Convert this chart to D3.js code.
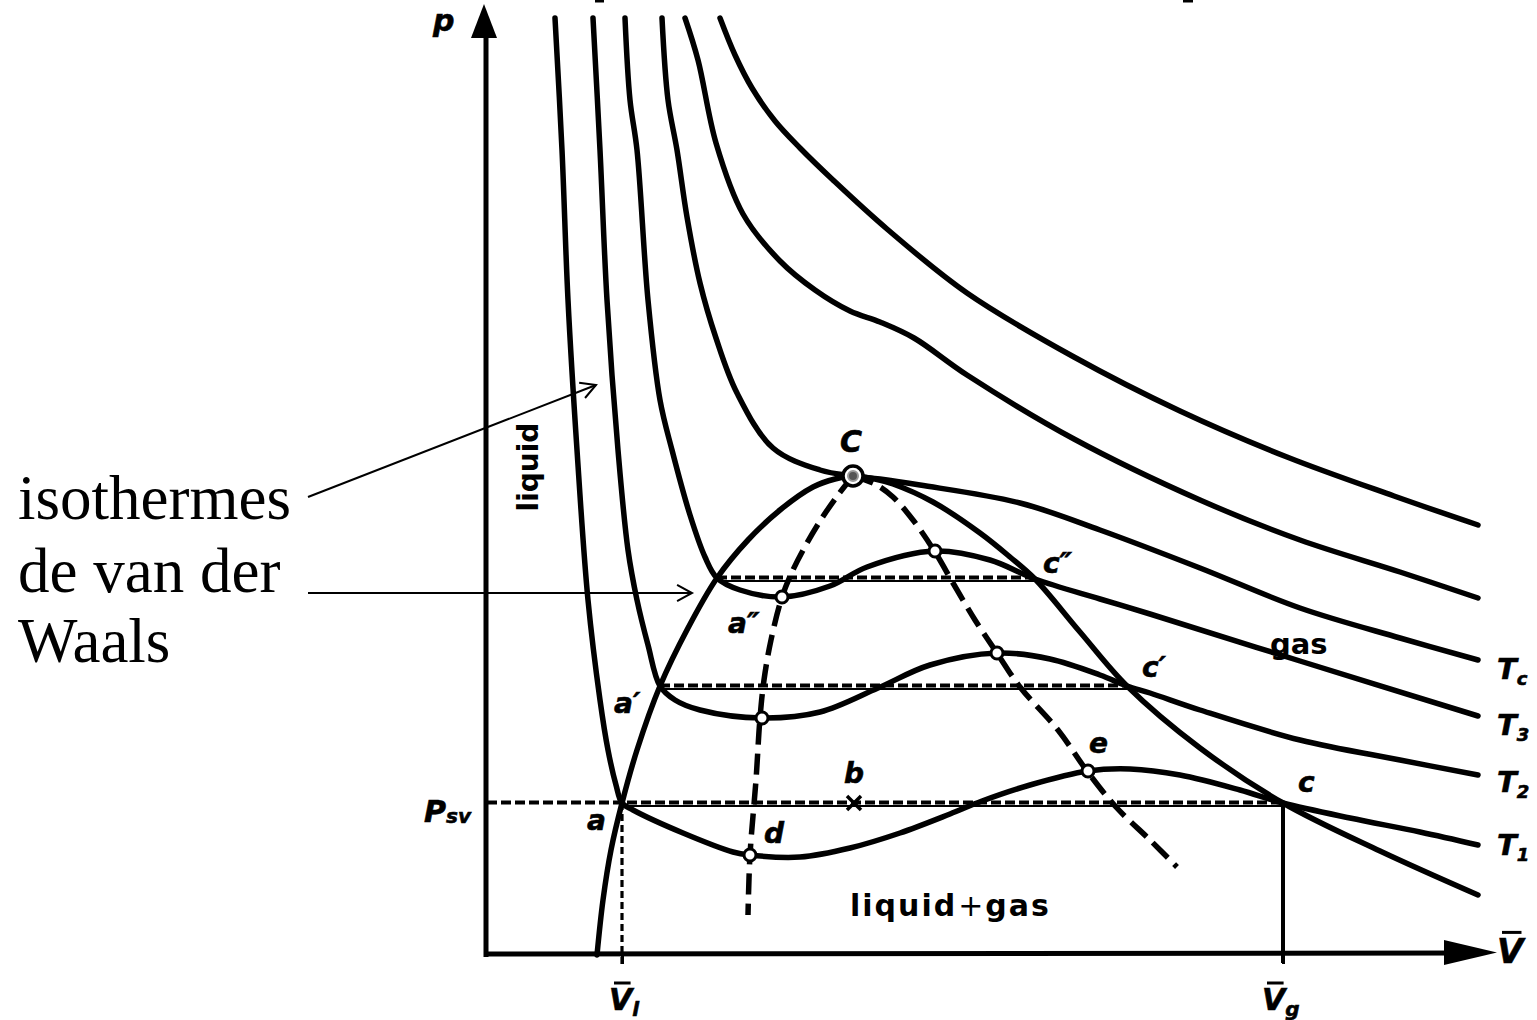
<!DOCTYPE html>
<html><head><meta charset="utf-8">
<script src="https://cdn.jsdelivr.net/npm/d3@7"></script>
<style>html,body{margin:0;padding:0;background:#fff;} svg{display:block}</style>
</head><body>
<svg id="chart" width="1537" height="1020"></svg>
<script>
// ---- data (V, p) in arbitrary diagram units ----
const T1 = [[6.8,93.7],[7.5,80.5],[8.1,65.5],[9.0,50.5],[10.1,35.5],[11.3,25.5],[12.1,20.5],[12.9,17.0],[13.5,15.2],[14.6,14.5],[19.6,12.2],[24.6,10.3],[26.3,10.0],[31.3,9.8],[36.3,10.7],[41.3,12.2],[46.3,14.1],[49.5,15.4],[54.3,17.0],[60.1,18.4],[64.3,18.6],[69.3,18.0],[75.3,16.5],[79.6,15.2],[86.3,13.7],[93.3,12.3],[99.1,11.0]];
const T2 = [[10.6,93.7],[11.3,80.5],[12.0,65.5],[13.1,50.5],[14.1,40.5],[15.0,35.5],[16.1,31.0],[17.3,26.9],[18.8,25.5],[21.3,24.5],[27.5,23.7],[33.3,24.3],[39.1,26.7],[44.3,29.0],[51.0,30.2],[56.3,29.6],[61.3,28.0],[64.0,26.9],[66.3,26.2],[71.3,24.5],[81.3,21.5],[91.3,19.5],[99.1,18.0]];
const T3 = [[13.8,93.7],[14.3,85.5],[15.0,80.5],[16.1,65.5],[17.3,55.5],[18.5,50.5],[20.3,44.0],[21.8,39.8],[23.0,37.7],[25.3,36.5],[29.5,35.8],[34.3,36.9],[38.0,38.8],[44.8,40.4],[50.3,39.5],[54.8,37.6],[61.3,35.6],[66.3,34.1],[81.3,29.4],[99.1,23.9]];
const Tc = [[17.5,93.7],[18.1,85.5],[19.0,80.5],[20.0,73.8],[21.3,67.2],[22.9,61.7],[25.0,56.2],[28.6,50.7],[33.3,48.5],[36.6,47.9],[39.3,47.6],[43.3,47.0],[53.3,45.2],[61.3,42.5],[71.3,38.7],[81.3,34.7],[91.3,31.7],[99.1,29.5]];
const T4 = [[19.8,93.7],[21.1,89.5],[22.9,81.2],[25.6,74.1],[29.3,69.4],[32.8,66.5],[36.3,64.4],[39.3,63.3],[42.7,61.7],[48.0,58.0],[58.7,51.6],[71.3,45.5],[81.3,41.5],[91.3,38.3],[99.1,35.7]];
const T5 = [[23.3,93.7],[24.8,90.0],[26.5,86.7],[28.8,83.4],[31.3,80.7],[34.6,77.5],[40.0,72.6],[48.0,66.2],[58.7,59.8],[69.3,54.4],[80.0,49.8],[90.7,45.9],[99.1,43.0]];
const binodal = [[11.0,0],[11.6,5.5],[12.4,10.5],[13.5,15.2],[15.0,20.5],[17.3,26.9],[20.1,32.7],[23.0,37.7],[26.1,41.5],[29.3,44.5],[32.6,46.8],[34.8,47.6],[36.6,47.9],[38.8,47.6],[40.6,47.1],[44.6,45.3],[49.3,42.2],[52.3,39.8],[54.8,37.6],[59.3,32.3],[64.0,26.9],[71.3,20.7],[79.6,15.2],[89.3,10.4],[99.1,6.0]];
const spinodalLeft = [[36.6,47.9],[35.1,46.0],[33.5,43.7],[32.0,41.2],[30.5,38.3],[29.5,35.8],[28.4,31.5],[27.7,27.5],[27.3,23.7],[26.9,17.5],[26.3,10.0],[26.1,4.0]];
const spinodalRight = [[36.6,47.9],[38.8,47.1],[40.6,45.8],[42.6,43.5],[44.8,40.3],[46.6,37.2],[48.8,33.5],[51.0,30.2],[53.3,26.8],[57.1,22.5],[60.0,18.4],[62.9,14.8],[66.3,11.5],[69.0,8.8]];
const openPoints = [[29.5,35.8],[44.8,40.4],[27.5,23.7],[51.0,30.2],[26.3,10.0],[60.1,18.4]];
const criticalPoint = [36.6,47.9];
const tieLines = [{p:15.2, v0:13.5, v1:79.6}, {p:26.9, v0:17.3, v1:64.0}, {p:37.7, v0:23.0, v1:54.8}];
const psv = 15.2, Vl = 13.5, Vg = 79.6, bPoint = [36.7,15.2];
const pointLabels = [
  {t:"a", at:[13.5,15.2], dx:-35, dy:27},
  {t:"a\u2032", at:[17.3,26.9], dx:-46, dy:27},
  {t:"a\u2033", at:[29.5,35.8], dx:-54, dy:36},
  {t:"b", at:[36.7,15.2], dx:-10, dy:-20},
  {t:"d", at:[26.3,10.0], dx:14, dy:-12},
  {t:"e", at:[60.1,18.4], dx:1, dy:-18},
  {t:"c", at:[79.6,15.2], dx:15, dy:-11},
  {t:"c\u2032", at:[64.0,26.9], dx:15, dy:-9},
  {t:"c\u2033", at:[54.8,37.6], dx:8, dy:-6},
  {t:"C", at:[36.6,47.9], dx:-13, dy:-24, big:true}
];
const curveLabels = [{t:"T", s:"c", curve:"Tc", dy:19},{t:"T", s:"3", curve:"T3", dy:19},{t:"T", s:"2", curve:"T2", dy:17},{t:"T", s:"1", curve:"T1", dy:10}];

// ---- drawing ----
const svg = d3.select('#chart');
const x = d3.scaleLinear().domain([0,100]).range([487,1487]);
const y = d3.scaleLinear().domain([0,94]).range([955,15]);
const line = d3.line().x(d=>x(d[0])).y(d=>y(d[1])).curve(d3.curveCatmullRom.alpha(0.5));
const FONT = "'DejaVu Sans', sans-serif";
const SW = 5.5;

// top artifacts
svg.append('rect').attr('x',595).attr('y',0).attr('width',9).attr('height',2.5).attr('fill','#000');
svg.append('rect').attr('x',1183).attr('y',0).attr('width',10).attr('height',2.5).attr('fill','#000');

// tie lines
tieLines.forEach((t,i)=>{
  svg.append('line').attr('x1',x(t.v0)).attr('x2',x(t.v1)).attr('y1',y(t.p)+3).attr('y2',y(t.p)+3)
    .attr('stroke','#000').attr('stroke-width',2);
  svg.append('line').attr('x1', i===0 ? x(0) : x(t.v0)).attr('x2',x(t.v1)).attr('y1',y(t.p)-0.5).attr('y2',y(t.p)-0.5)
    .attr('stroke','#000').attr('stroke-width',4).attr('stroke-dasharray','10,4');
});
// verticals
svg.append('line').attr('x1',x(Vl)).attr('x2',x(Vl)).attr('y1',y(psv)).attr('y2',y(0)+13)
  .attr('stroke','#000').attr('stroke-width',3.2).attr('stroke-dasharray','7,4');
svg.append('line').attr('x1',x(Vg)).attr('x2',x(Vg)).attr('y1',y(psv)).attr('y2',y(0)+8)
  .attr('stroke','#000').attr('stroke-width',4);

// axes
const axisG = svg.append('g');
axisG.append('line').attr('x1',x(0)-1).attr('x2',x(0)-1).attr('y1',y(0)+2).attr('y2',30).attr('stroke','#000').attr('stroke-width',5);
axisG.append('path').attr('d',`M${x(0)-3},4 L${x(0)-16},38 L${x(0)+10},38 Z`).attr('fill','#000');
axisG.append('line').attr('x1',x(0)-3).attr('x2',1470).attr('y1',y(0)-1).attr('y2',y(0)-2).attr('stroke','#000').attr('stroke-width',5);
axisG.append('path').attr('d',`M1497,${y(0)-2.5} L1444,${y(0)-15} L1444,${y(0)+10} Z`).attr('fill','#000');
const xAxis = d3.axisBottom(x).tickValues([Vl, Vg]).tickSize(9).tickFormat('').tickSizeOuter(0);
const xa = svg.append('g').attr('transform',`translate(0,${y(0)})`).call(xAxis);
xa.select('.domain').remove();
xa.selectAll('.tick line').attr('stroke','#000').attr('stroke-width',3);

// curves
const isotherms = {T1, T2, T3, Tc, T4, T5};
Object.values(isotherms).forEach(c=>{
  svg.append('path').attr('d',line(c)).attr('fill','none').attr('stroke','#000').attr('stroke-width',SW).attr('stroke-linecap','round');
});
svg.append('path').attr('d',line(binodal)).attr('fill','none').attr('stroke','#000').attr('stroke-width',SW).attr('stroke-linecap','round');
[spinodalLeft, spinodalRight].forEach(c=>{
  svg.append('path').attr('d',line(c)).attr('fill','none').attr('stroke','#000').attr('stroke-width',SW)
    .attr('stroke-dasharray','21,9');
});

// open circles
svg.selectAll('circle.open').data(openPoints).join('circle').attr('class','open')
  .attr('cx',d=>x(d[0])).attr('cy',d=>y(d[1])).attr('r',6)
  .attr('fill','#fff').attr('stroke','#000').attr('stroke-width',3);
// critical point
svg.append('circle').attr('cx',x(criticalPoint[0])).attr('cy',y(criticalPoint[1])).attr('r',10)
  .attr('fill','#fff').attr('stroke','#000').attr('stroke-width',3.5);
svg.append('circle').attr('cx',x(criticalPoint[0])).attr('cy',y(criticalPoint[1])).attr('r',5)
  .attr('fill','#555').attr('stroke','#999').attr('stroke-width',2);
// b cross
const bx = x(bPoint[0]), by = y(bPoint[1]);
svg.append('path').attr('d',`M${bx-7},${by-7}L${bx+7},${by+7}M${bx-7},${by+7}L${bx+7},${by-7}`)
  .attr('stroke','#000').attr('stroke-width',3.5);

// point labels
pointLabels.forEach(l=>{
  svg.append('text').attr('x',x(l.at[0])+l.dx).attr('y',y(l.at[1])+l.dy)
    .attr('font-family',FONT).attr('font-weight','bold').attr('font-style','italic')
    .attr('font-size', l.big?30:28).attr('stroke','#000').attr('stroke-width',0.6).text(l.t);
});
// curve labels
curveLabels.forEach(l=>{
  const c = isotherms[l.curve]; const e = c[c.length-1];
  const t = svg.append('text').attr('x',x(e[0])+19).attr('y',y(e[1])+l.dy)
    .attr('font-family',FONT).attr('font-weight','bold').attr('font-style','italic').attr('font-size',29)
    .attr('stroke','#000').attr('stroke-width',0.6);
  t.append('tspan').text(l.t);
  t.append('tspan').attr('font-size',18).attr('dy',6).text(l.s);
});

// axis labels
svg.append('text').attr('x',433).attr('y',31).attr('font-family',FONT).attr('font-weight','bold').attr('font-style','italic').attr('font-size',30).attr('stroke','#000').attr('stroke-width',0.6).text('p');
function vbar(xp, yp, size, sub){
  const t = svg.append('text').attr('x',xp).attr('y',yp).attr('font-family',FONT).attr('font-weight','bold').attr('font-style','italic').attr('font-size',size).attr('stroke','#000').attr('stroke-width',0.6);
  t.append('tspan').text('V');
  if(sub) t.append('tspan').attr('font-size',20).attr('dy',6).text(sub);
  svg.append('line').attr('x1',xp+5).attr('x2',xp+size*0.72).attr('y1',yp-size*0.9).attr('y2',yp-size*0.9).attr('stroke','#000').attr('stroke-width',3);
}
vbar(1497, 963, 34, null);
vbar(609, 1010, 30, 'l');
vbar(1262, 1010, 30, 'g');
const ps = svg.append('text').attr('x',424).attr('y',822).attr('font-family',FONT).attr('font-weight','bold').attr('font-style','italic').attr('font-size',30).attr('stroke','#000').attr('stroke-width',0.6);
ps.append('tspan').text('P');
ps.append('tspan').attr('font-size',20).attr('dy',1).text('sv');

// region labels
svg.append('text').attr('x',1270).attr('y',654).attr('font-family',FONT).attr('font-weight','bold').attr('font-size',29).text('gas');
svg.append('text').attr('transform','translate(538,467) rotate(-90)').attr('text-anchor','middle')
  .attr('font-family',FONT).attr('font-weight','bold').attr('font-size',28).text('liquid');
const lg = svg.append('text').attr('x',850).attr('y',916).attr('font-family',FONT).attr('font-weight','bold').attr('font-size',30).attr('letter-spacing',2);
lg.append('tspan').text('liquid');
lg.append('tspan').attr('font-weight','normal').attr('dx',1).text('+');
lg.append('tspan').attr('dx',0).text('gas');

// annotation
const ann = svg.append('g').attr('font-family',"'Liberation Serif','Times New Roman',serif").attr('font-size',63);
ann.append('text').attr('x',18).attr('y',519).text('isothermes');
ann.append('text').attr('x',18).attr('y',592).text('de van der');
ann.append('text').attr('x',18).attr('y',662).text('Waals');
function arrow(x1,y1,x2,y2){
  svg.append('line').attr('x1',x1).attr('y1',y1).attr('x2',x2).attr('y2',y2).attr('stroke','#000').attr('stroke-width',2);
  const a = Math.atan2(y2-y1,x2-x1), L=17, w=0.5;
  const p1=[x2-L*Math.cos(a-w), y2-L*Math.sin(a-w)], p2=[x2-L*Math.cos(a+w), y2-L*Math.sin(a+w)];
  svg.append('path').attr('d',`M${p1}L${x2},${y2}L${p2}`).attr('fill','none').attr('stroke','#000').attr('stroke-width',2);
}
arrow(308,497,596,385);
arrow(308,593,692,593);
</script>
</body></html>
